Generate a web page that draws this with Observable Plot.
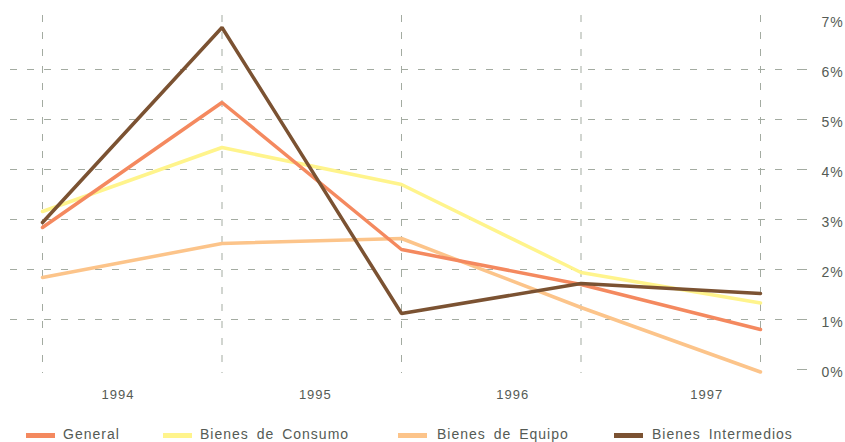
<!DOCTYPE html>
<html><head><meta charset="utf-8">
<script src="https://cdn.jsdelivr.net/npm/d3@7"></script>
<script src="https://cdn.jsdelivr.net/npm/@observablehq/plot@0.6"></script>
<style>
body{margin:0;background:#fff;font-family:"Liberation Sans",Arial,sans-serif;}
#wrap{position:relative;width:845px;height:442px;overflow:hidden;}
.leg{position:absolute;top:424px;font-size:14px;letter-spacing:1px;word-spacing:3px;color:#555b55;white-space:nowrap;line-height:20px}
.sw{position:absolute;top:433px;width:29px;height:5px}
</style></head><body><div id="wrap"></div>
<script>
// data
const periods = [0, 1, 2, 3, 4];
const general = [2.84, 5.34, 2.40, 1.70, 0.80];
const consumo = [3.16, 4.44, 3.70, 1.94, 1.33];
const equipo = [1.84, 2.52, 2.62, 1.24, -0.05];
const intermedios = [2.94, 6.84, 1.12, 1.72, 1.52];
const seriesNames = ["General", "Bienes de Consumo", "Bienes de Equipo", "Bienes Intermedios"];
const seriesValues = [general, consumo, equipo, intermedios];
const colors = ["#f4895f", "#fff48c", "#fcc48a", "#7b5232"];
const yearLabels = ["1994", "1995", "1996", "1997"];
const yearPos = [0.42, 1.52, 2.62, 3.70];
const yTicks = [0, 1, 2, 3, 4, 5, 6, 7];
const yGrid = [1, 2, 3, 4, 5, 6];

const rows = seriesNames.flatMap((s, k) => periods.map((p, i) => ({series: s, period: p, value: seriesValues[k][i]})));
const gridColor = "#a3aba1";
const drawOrder = ["Bienes de Equipo", "Bienes de Consumo", "General", "Bienes Intermedios"];

const chart = Plot.plot({
  width: 845,
  height: 420,
  marginLeft: 10,
  marginRight: 38,
  marginTop: 15,
  marginBottom: 47,
  x: {domain: [0, 4], insetLeft: 32, insetRight: 47},
  y: {domain: [0, 7], insetTop: 4, insetBottom: 4},
  color: {domain: seriesNames, range: colors},
  style: {fontFamily: '"Liberation Sans", Arial, sans-serif', fontSize: "14px", color: "#555b55", letterSpacing: "1px", background: "#fff"},
  marks: [
    Plot.gridY(yGrid, {stroke: gridColor, strokeOpacity: 1, strokeDasharray: "7,10", insetRight: 17}),
    Plot.gridX(periods, {stroke: gridColor, strokeOpacity: 1, strokeDasharray: "7,10"}),
    Plot.axisY({anchor: "right", ticks: yTicks.slice(0, 7), tickSize: 10, dx: -11, tickFormat: () => "", stroke: gridColor, label: null}),
    Plot.axisY({anchor: "right", ticks: yTicks, tickSize: 0, tickPadding: 14, dy: 3, tickFormat: d => d + "%", fontSize: 14, fill: "#555b55", label: null}),
    Plot.axisX({ticks: yearPos, tickSize: 0, tickPadding: 16, tickFormat: d => yearLabels[yearPos.indexOf(d)], fontSize: 13, fill: "#555b55", label: null}),
    ...drawOrder.map(s => Plot.line(rows.filter(r => r.series === s), {x: "period", y: "value", stroke: "series", strokeWidth: 3.5, strokeLinejoin: "miter"}))
  ]
});
const wrap = document.getElementById("wrap");
wrap.appendChild(chart);

const swLeft = [26, 163, 398, 614];
const txLeft = [63, 200, 437, 652];
seriesNames.forEach((s, i) => {
  const sw = document.createElement("div");
  sw.className = "sw"; sw.style.left = swLeft[i] + "px"; sw.style.background = colors[i];
  const tx = document.createElement("div");
  tx.className = "leg"; tx.style.left = txLeft[i] + "px"; tx.textContent = s;
  wrap.appendChild(sw); wrap.appendChild(tx);
});
</script></body></html>
